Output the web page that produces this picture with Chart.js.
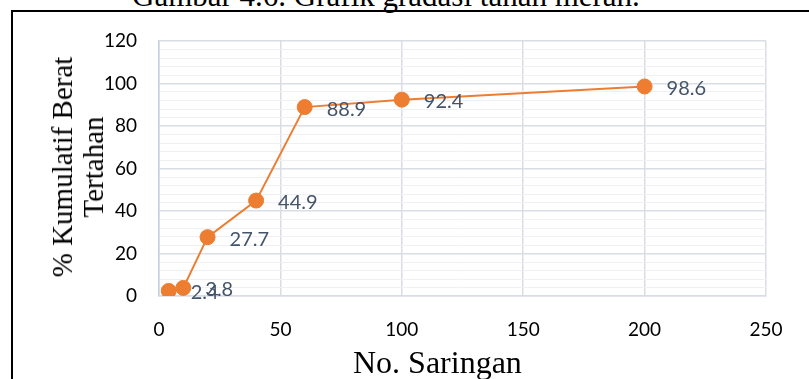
<!DOCTYPE html>
<html>
<head>
<meta charset="utf-8">
<script src="https://cdn.jsdelivr.net/npm/chart.js@4.4.1/dist/chart.umd.min.js"></script>
<style>
  html, body { margin: 0; padding: 0; background: #fff; overflow: hidden; }
  #wrap { position: relative; width: 809px; height: 379px; overflow: hidden; }
  #caption {
    position: absolute; left: 132px; top: -20px; white-space: nowrap;
    font-family: "Liberation Serif", "Times New Roman", serif; font-size: 31px; line-height: 31px; color: #000;
  }
  #frame {
    position: absolute; left: 11px; top: 10px; width: 1000px; height: 600px;
    border-left: 2px solid #000; border-top: 2px solid #000;
  }
  #chartBox { position: absolute; left: 0; top: 0; width: 809px; height: 379px; }
  .axisTitle {
    position: absolute; font-family: "Liberation Serif", "Times New Roman", serif; color: #000; white-space: nowrap;
  }
  #xTitle { left: 353px; top: 344px; font-size: 32px; line-height: 36px; }
  #yTitle {
    left: 78px; top: 167px; font-size: 29px; line-height: 31px; text-align: center;
    transform: translate(-50%, -50%) rotate(-90deg);
  }
</style>
</head>
<body>
<div id="wrap">
  <div id="caption">Gambar 4.6. Grafik gradasi tanah merah.</div>
  <div id="frame"></div>
  <div id="chartBox"><canvas id="chart" width="809" height="379"></canvas></div>
  <div id="xTitle" class="axisTitle">No. Saringan</div>
  <div id="yTitle" class="axisTitle">% Kumulatif Berat<br>Tertahan</div>
</div>
<script>
// Sieve numbers and cumulative retained percentage
const sieveNo = [4, 10, 20, 40, 60, 100, 200];
const retained = [2.4, 3.8, 27.7, 44.9, 88.9, 92.4, 98.6];
const xTickValues = [0, 50, 100, 150, 200, 250];
const yTickValues = [0, 20, 40, 60, 80, 100, 120];

const ORANGE = '#ED7D31';
const LABEL_COLOR = '#44546A';
const MAJOR_GRID = '#D9DEE6';
const MINOR_GRID = '#EEF0F4';
const TICK_FONT = { family: 'Lato, "Noto Sans", sans-serif', size: 19 };

const points = sieveNo.map((x, i) => ({ x: x, y: retained[i] }));

// Value labels drawn to the right of each point
const valueLabels = {
  id: 'valueLabels',
  afterDatasetsDraw(chart) {
    const ctx = chart.ctx;
    const meta = chart.getDatasetMeta(0);
    ctx.save();
    ctx.font = '20px Lato, "Noto Sans", sans-serif';
    ctx.fillStyle = LABEL_COLOR;
    ctx.textAlign = 'left';
    ctx.textBaseline = 'middle';
    meta.data.forEach((pt, i) => {
      ctx.fillText(String(retained[i]), pt.x + 22, pt.y + 2);
    });
    ctx.restore();
  }
};

new Chart(document.getElementById('chart'), {
  type: 'scatter',
  data: {
    datasets: [{
      data: points,
      showLine: true,
      borderColor: ORANGE,
      borderWidth: 2,
      backgroundColor: ORANGE,
      pointBackgroundColor: ORANGE,
      pointBorderColor: ORANGE,
      pointBorderWidth: 1,
      pointRadius: 7.5,
      pointHoverRadius: 7.5
    }]
  },
  options: {
    responsive: false,
    animation: false,
    events: [],
    layout: { padding: { left: 0, right: 43, top: 41, bottom: 0 } },
    plugins: {
      legend: { display: false },
      tooltip: { enabled: false },
      title: { display: false }
    },
    scales: {
      x: {
        type: 'linear',
        min: 0, max: 250,
        afterBuildTicks(scale) { scale.ticks = xTickValues.map(v => ({ value: v })); },
        afterFit(scale) { scale.height = 83; },
        ticks: { font: TICK_FONT, color: '#000', padding: 22, maxRotation: 0 },
        grid: { color: MAJOR_GRID, lineWidth: 1.5, drawTicks: false },
        border: { color: MAJOR_GRID, width: 1.5 }
      },
      y: {
        type: 'linear',
        min: 0, max: 120,
        ticks: {
          stepSize: 4,
          autoSkip: false,
          font: TICK_FONT,
          color: '#000',
          padding: 22,
          callback: (v) => yTickValues.includes(v) ? String(v) : ''
        },
        afterFit(scale) { scale.width = 159; },
        grid: {
          drawTicks: false,
          color: (c) => (c.tick && c.tick.value % 20 === 0) ? MAJOR_GRID : MINOR_GRID,
          lineWidth: (c) => (c.tick && c.tick.value % 20 === 0) ? 1.5 : 1
        },
        border: { color: '#C5D0DE', width: 1.5 }
      }
    }
  },
  plugins: [valueLabels]
});
</script>
</body>
</html>
